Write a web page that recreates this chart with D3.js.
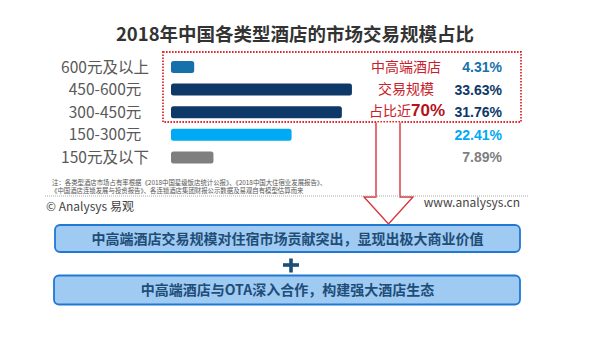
<!DOCTYPE html>
<html><head><meta charset="utf-8">
<script src="https://cdn.jsdelivr.net/npm/d3@7"></script>
<style>
html,body{margin:0;padding:0;background:#fff;}
svg{display:block;font-family:"Noto Sans CJK SC","Noto Sans",sans-serif;}
</style></head>
<body><svg id="c" width="594" height="342"></svg>
<script>
const title = "2018年中国各类型酒店的市场交易规模占比";
const categories = ["600元及以上", "450-600元", "300-450元", "150-300元", "150元及以下"];
const shares = [4.31, 33.63, 31.76, 22.41, 7.89];
const palette = ["#1671ab", "#0d3868", "#0d3868", "#00a9f4", "#7f7f7f"];
const calloutLines = ["中高端酒店", "交易规模", "占比近"];
const calloutValue = "70%";
const noteLines = [
  "注：各类型酒店市场占有率根据《2018中国星级饭店统计公报》、《2018中国大住宿业发展报告》、",
  "《中国酒店连锁发展与投资报告》、各连锁酒店集团财报公示数据及易观自有模型估算而来"
];
const brandLeft = "© Analysys 易观";
const brandRight = "www.analysys.cn";
const conclusions = ["中高端酒店交易规模对住宿市场贡献突出，显现出极大商业价值", "中高端酒店与OTA深入合作，构建强大酒店生态"];

const svg = d3.select("#c");

// title
svg.append("text").attr("x", 295).attr("y", 40.5).attr("text-anchor", "middle")
  .attr("font-size", 18.5).attr("font-weight", "bold").attr("fill", "#333")
  .text(title);

// scales
const x = d3.scaleLinear().domain([0, 40]).range([171, 171 + 5.38 * 40]);
const y = d3.scalePoint().domain(categories).range([67, 157.4]);
const barH = 12;
const data = categories.map((c, i) => ({cat: c, v: shares[i], col: palette[i]}));

// category labels
svg.selectAll("text.cat").data(data).join("text").attr("class", "cat")
  .attr("x", 105).attr("y", d => y(d.cat)).attr("dy", "0.36em")
  .attr("text-anchor", "middle").attr("font-size", 15.5).attr("fill", "#595959")
  .text(d => d.cat);

// bars
svg.selectAll("rect.bar").data(data).join("rect").attr("class", "bar")
  .attr("x", x(0)).attr("y", d => y(d.cat) - barH / 2)
  .attr("width", d => x(d.v) - x(0)).attr("height", barH)
  .attr("rx", 2.5).attr("fill", d => d.col);

// value labels
svg.selectAll("text.val").data(data).join("text").attr("class", "val")
  .attr("x", 502).attr("y", d => y(d.cat)).attr("dy", "0.36em")
  .attr("text-anchor", "end").attr("font-size", 14).attr("font-weight", "bold")
  .attr("font-family", "'Liberation Sans', Arial, sans-serif")
  .attr("fill", d => d.col)
  .text(d => d3.format(".2f")(d.v) + "%");

// red dotted callout box
svg.append("rect").attr("x", 163).attr("y", 52).attr("width", 358).attr("height", 70)
  .attr("fill", "none").attr("stroke", "#e02a2f").attr("stroke-width", 1.8)
  .attr("stroke-dasharray", "1.6,1.4");

// callout text
const cy = [67, 88.5, 110];
calloutLines.forEach((t, i) => {
  if (i < 2) {
    svg.append("text").attr("x", 406).attr("y", cy[i]).attr("dy", "0.36em")
      .attr("text-anchor", "middle").attr("font-size", 14).attr("fill", "#c8202a").text(t);
  } else {
    const tx = svg.append("text").attr("x", 407).attr("y", cy[i]).attr("dy", "0.36em")
      .attr("text-anchor", "middle").attr("fill", "#c8202a");
    tx.append("tspan").attr("font-size", 14).text(t);
    tx.append("tspan").attr("font-size", 17).attr("font-weight", "bold").attr("fill", "#b5121b")
      .attr("font-family", "'Liberation Sans', Arial, sans-serif").text(calloutValue);
  }
});

// arrow
const arrow = d3.path();
arrow.moveTo(376, 122.5); arrow.lineTo(376, 197); arrow.lineTo(364, 197);
arrow.lineTo(388.5, 224); arrow.lineTo(413, 197); arrow.lineTo(400, 197); arrow.lineTo(400, 122.5);
svg.append("path").attr("d", arrow.toString()).attr("fill", "#fff")
  .attr("stroke", "#d8343c").attr("stroke-width", 1.4);

// footnote
noteLines.forEach((t, i) => {
  svg.append("text").attr("x", i === 0 ? 52 : 51).attr("y", 182.5 + i * 8.5).attr("dy", "0.36em")
    .attr("font-size", 6.4).attr("fill", "#555").text(t);
});
svg.append("line").attr("x1", 45).attr("x2", 529).attr("y1", 196).attr("y2", 196)
  .attr("stroke", "#aaa").attr("stroke-width", 1).attr("stroke-dasharray", "1,1");

svg.append("text").attr("x", 46).attr("y", 207).attr("dy", "0.36em")
  .attr("font-size", 12).attr("fill", "#444").text(brandLeft);
svg.append("text").attr("x", 520).attr("y", 203).attr("dy", "0.36em").attr("text-anchor", "end")
  .attr("font-size", 12).attr("fill", "#444").text(brandRight);

// conclusion boxes
const boxes = [{x: 55, y: 225, w: 465, h: 27}, {x: 54, y: 275.5, w: 466, h: 29}];
boxes.forEach((b, i) => {
  svg.append("rect").attr("x", b.x).attr("y", b.y).attr("width", b.w).attr("height", b.h)
    .attr("rx", 5).attr("fill", "#9fcaf2").attr("stroke", "#2178d3").attr("stroke-width", 1.8);
  svg.append("text").attr("x", 287.5).attr("y", b.y + b.h / 2).attr("dy", "0.36em")
    .attr("text-anchor", "middle").attr("font-size", 14).attr("font-weight", "bold")
    .attr("fill", "#1e4d78").text(conclusions[i]);
});

// plus sign
svg.append("rect").attr("x", 283).attr("y", 263.2).attr("width", 16).attr("height", 3.6).attr("fill", "#1b4f78");
svg.append("rect").attr("x", 289.2).attr("y", 258.5).attr("width", 3.6).attr("height", 14).attr("fill", "#1b4f78");
</script></body></html>
